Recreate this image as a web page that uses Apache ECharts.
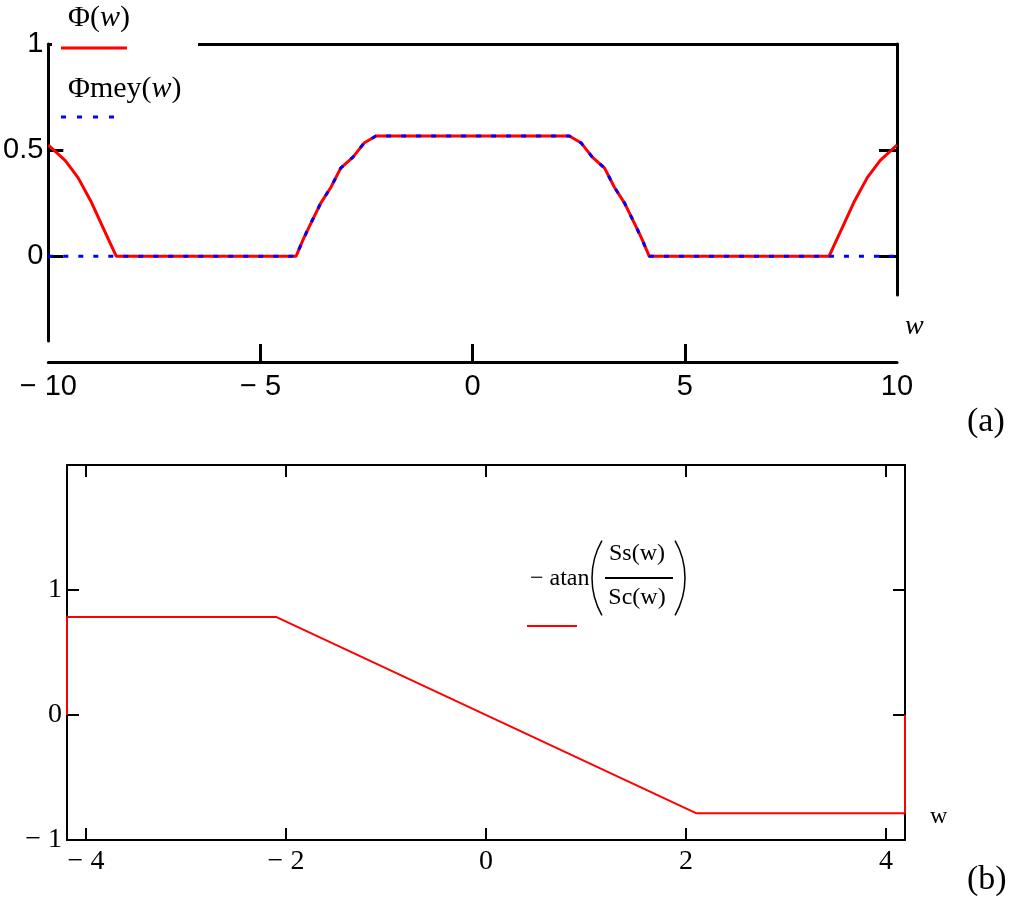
<!DOCTYPE html>
<html>
<head>
<meta charset="utf-8">
<script src="https://cdn.jsdelivr.net/npm/echarts@6/dist/echarts.min.js"></script>
<style>
  html, body { margin: 0; padding: 0; background: #fff; }
  #chart { width: 1011px; height: 908px; }
</style>
</head>
<body>
<div id="chart"></div>
<script>
// (a) Phi(w) and Phimey(w)
const wA = [-10, -9.6, -9.3, -9.0, -8.7, -8.4, -4.16, -3.98, -3.81, -3.58, -3.34, -3.11, -2.82, -2.56, -2.28,
  2.28, 2.56, 2.82, 3.11, 3.34, 3.58, 3.81, 3.98, 4.16, 8.4, 8.7, 9.0, 9.3, 9.6, 10]
const phi = [0.524, 0.45, 0.37, 0.26, 0.13, 0, 0, 0.085, 0.156, 0.25, 0.325, 0.415, 0.467, 0.533, 0.566,
  0.566, 0.533, 0.467, 0.415, 0.325, 0.25, 0.156, 0.085, 0, 0, 0.13, 0.26, 0.37, 0.45, 0.524]
const phiMey = [0, 0, 0, 0, 0, 0, 0, 0.085, 0.156, 0.25, 0.325, 0.415, 0.467, 0.533, 0.566,
  0.566, 0.533, 0.467, 0.415, 0.325, 0.25, 0.156, 0.085, 0, 0, 0, 0, 0, 0, 0]
const xTicksA = [-5, 0, 5]
const yTicksA = [0, 0.5, 1]

// (b) -atan(Ss(w)/Sc(w))
const wB = [-4.19, -4.19, -2.1, 2.1, 4.19, 4.19]
const atanB = [0, 0.785, 0.785, -0.785, -0.785, 0]
const xTicksB = [-4, -2, 0, 2, 4]
const yLabelsB = [-1, 0, 1]
const yTicksB = [0, 1]

const pairs = (xs, ys) => xs.map((x, i) => [x, ys[i]])
const minus = v => (v < 0 ? '\u2212 ' + Math.abs(v) : String(v))

const sansLbl = { color: '#000', fontFamily: 'Liberation Sans', fontSize: 29 }
const serifLbl = { color: '#000', fontFamily: 'Liberation Serif', fontSize: 28 }
const lineA = { show: true, onZero: false, lineStyle: { color: '#000', width: 3 } }
const lineB = { show: true, onZero: false, lineStyle: { color: '#000', width: 2 } }

const chart = echarts.init(document.getElementById('chart'))

chart.setOption({
  animation: false,
  backgroundColor: '#fff',
  title: [
    { text: '(a)', left: 962, top: 400, textStyle: { fontFamily: 'Liberation Serif', fontSize: 34, fontWeight: 'normal', color: '#000' } },
    { text: '(b)', left: 962, top: 858, textStyle: { fontFamily: 'Liberation Serif', fontSize: 34, fontWeight: 'normal', color: '#000' } }
  ],
  grid: [
    { left: 47, right: 114, top: 44, bottom: 567 },
    { left: 47, right: 114, top: 44, bottom: 613 },
    { left: 67, right: 106, top: 465, bottom: 68 }
  ],
  xAxis: [
    {
      gridIndex: 0, type: 'value', min: -10, max: 10, interval: 5, offset: 21,
      axisLine: lineA,
      axisTick: { inside: true, length: 18, customValues: xTicksA, lineStyle: { color: '#000', width: 3 } },
      axisLabel: Object.assign({ margin: 10, formatter: minus }, sansLbl),
      splitLine: { show: false },
      name: 'w', nameLocation: 'end', nameGap: 8,
      nameTextStyle: { fontFamily: 'Liberation Serif', fontStyle: 'italic', fontSize: 28, color: '#000', verticalAlign: 'bottom', lineHeight: 70 }
    },
    {
      gridIndex: 0, type: 'value', position: 'top', min: -10, max: 10,
      axisLine: lineA, axisTick: { show: false }, axisLabel: { show: false }, splitLine: { show: false }
    },
    {
      gridIndex: 1, type: 'value', min: -10, max: 10, show: false
    },
    {
      gridIndex: 2, type: 'value', min: -4.19, max: 4.19,
      axisLine: lineB,
      axisTick: { inside: true, length: 12, customValues: xTicksB, lineStyle: { color: '#000', width: 2 } },
      axisLabel: Object.assign({ margin: 8, customValues: xTicksB, formatter: minus }, serifLbl),
      splitLine: { show: false },
      name: 'w', nameLocation: 'end', nameGap: 25,
      nameTextStyle: { fontFamily: 'Liberation Serif', fontSize: 24, color: '#000', verticalAlign: 'bottom', lineHeight: 46 }
    },
    {
      gridIndex: 2, type: 'value', position: 'top', min: -4.19, max: 4.19,
      axisLine: lineB,
      axisTick: { inside: true, length: 12, customValues: xTicksB, lineStyle: { color: '#000', width: 2 } },
      axisLabel: { show: false }, splitLine: { show: false }
    }
  ],
  yAxis: [
    {
      gridIndex: 0, type: 'value', min: -0.4, max: 1,
      axisLine: lineA,
      axisTick: { inside: true, length: 15, customValues: yTicksA, lineStyle: { color: '#000', width: 3 } },
      axisLabel: Object.assign({ margin: 5, customValues: yTicksA }, sansLbl),
      splitLine: { show: false }
    },
    {
      gridIndex: 1, type: 'value', position: 'right', min: -0.184, max: 1,
      axisLine: lineA,
      axisTick: { inside: true, length: 18, customValues: [0, 0.5], lineStyle: { color: '#000', width: 3 } },
      axisLabel: { show: false }, splitLine: { show: false }
    },
    {
      gridIndex: 2, type: 'value', min: -1, max: 2,
      axisLine: lineB,
      axisTick: { inside: true, length: 12, customValues: yTicksB, lineStyle: { color: '#000', width: 2 } },
      axisLabel: Object.assign({ margin: 5, customValues: yLabelsB, formatter: minus }, serifLbl),
      splitLine: { show: false }
    },
    {
      gridIndex: 2, type: 'value', position: 'right', min: -1, max: 2,
      axisLine: lineB,
      axisTick: { inside: true, length: 12, customValues: yTicksB, lineStyle: { color: '#000', width: 2 } },
      axisLabel: { show: false }, splitLine: { show: false }
    }
  ],
  series: [
    {
      name: '\u03a6(w)', type: 'line', xAxisIndex: 0, yAxisIndex: 0,
      data: pairs(wA, phi), showSymbol: false, clip: false,
      lineStyle: { color: '#ff0000', width: 3 }
    },
    {
      name: '\u03a6mey(w)', type: 'line', xAxisIndex: 0, yAxisIndex: 0,
      data: pairs(wA, phiMey), showSymbol: false, clip: false,
      lineStyle: { color: '#0000ff', width: 3, type: [5, 10] }
    },
    {
      name: '-atan(Ss(w)/Sc(w))', type: 'line', xAxisIndex: 3, yAxisIndex: 2,
      data: pairs(wB, atanB), showSymbol: false, clip: false,
      lineStyle: { color: '#ff0000', width: 2 }
    }
  ],
  graphic: [
    // legend of (a)
    { type: 'rect', z: 10, shape: { x: 52, y: 0, width: 146, height: 130 }, style: { fill: '#fff' } },
    {
      type: 'text', z: 11, x: 68, y: 18,
      style: {
        text: '\u03a6({i|w})', fontFamily: 'Liberation Serif', fontSize: 30, fill: '#000', verticalAlign: 'middle',
        rich: { i: { fontFamily: 'Liberation Serif', fontStyle: 'italic', fontSize: 30 } }
      }
    },
    { type: 'line', z: 11, shape: { x1: 61, y1: 48, x2: 127, y2: 48 }, style: { stroke: '#ff0000', lineWidth: 3 } },
    {
      type: 'text', z: 11, x: 68, y: 89,
      style: {
        text: '\u03a6mey({i|w})', fontFamily: 'Liberation Serif', fontSize: 30, fill: '#000', verticalAlign: 'middle',
        rich: { i: { fontFamily: 'Liberation Serif', fontStyle: 'italic', fontSize: 30 } }
      }
    },
    { type: 'line', z: 11, shape: { x1: 61, y1: 117, x2: 114, y2: 117 }, style: { stroke: '#0000ff', lineWidth: 3, lineDash: [5, 11] } },
    // legend of (b)
    { type: 'text', z: 11, x: 530, y: 579, style: { text: '\u2212 atan', fontFamily: 'Liberation Serif', fontSize: 24, fill: '#000', verticalAlign: 'middle' } },
    { type: 'arc', z: 11, shape: { cx: 667, cy: 578, r: 75, startAngle: Math.PI - 0.52, endAngle: Math.PI + 0.52, clockwise: true }, style: { stroke: '#000', lineWidth: 1.5, fill: null } },
    { type: 'arc', z: 11, shape: { cx: 610, cy: 578, r: 75, startAngle: -0.52, endAngle: 0.52, clockwise: true }, style: { stroke: '#000', lineWidth: 1.5, fill: null } },
    { type: 'text', z: 11, x: 637, y: 554, style: { text: 'Ss(w)', fontFamily: 'Liberation Serif', fontSize: 24, fill: '#000', align: 'center', verticalAlign: 'middle' } },
    { type: 'line', z: 11, shape: { x1: 605, y1: 578, x2: 673, y2: 578 }, style: { stroke: '#000', lineWidth: 2 } },
    { type: 'text', z: 11, x: 637, y: 598, style: { text: 'Sc(w)', fontFamily: 'Liberation Serif', fontSize: 24, fill: '#000', align: 'center', verticalAlign: 'middle' } },
    { type: 'line', z: 11, shape: { x1: 527, y1: 626, x2: 577, y2: 626 }, style: { stroke: '#ff0000', lineWidth: 2 } }
  ]
})
</script>
</body>
</html>
